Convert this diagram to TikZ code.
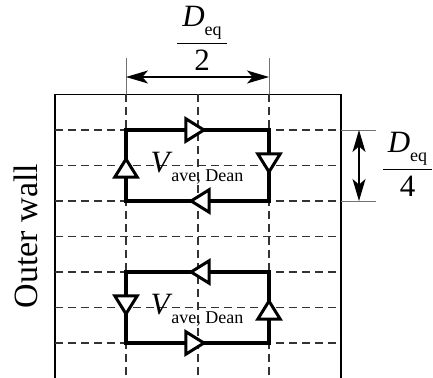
\documentclass[tikz,border=0pt]{standalone}
\usepackage{amsmath}
\usepackage{fontspec}
\setmainfont{Liberation Serif}
\usetikzlibrary{arrows.meta, decorations.markings}

\newcommand\lowsub[1]{\raisebox{-0.3em}{\fontsize{9}{9}\selectfont #1}}
\newcommand\Deq{\kern2.5pt\textit{D}\lowsub{eq}\kern2.5pt}
\newcommand\Vdean{\textit{V}\kern-0.5pt\lowsub{ave, Dean}}

\begin{document}
\begin{tikzpicture}[x=0.5pt, y=-0.5pt,
    wall/.style={line width=0.55pt},
    grid/.style={dash pattern=on 4pt off 2.5pt, line width=0.65pt, black!80},
    extline/.style={line width=0.45pt, black!55},
    dimarrow/.style={{Stealth[length=11pt, width=6.5pt, inset=2.8pt]}-{Stealth[length=11pt, width=6.5pt, inset=2.8pt]}, line width=0.55pt},
    vortex/.style={line width=1.7pt, line join=miter},
    flow/.style={postaction={decorate}, decoration={markings, mark=at position 0.5 with {\draw[fill=white, line width=1.5pt, line join=miter] (3.2pt,0) -- (-5.8pt,5.6pt) -- (-5.8pt,-5.6pt) -- cycle;}}},
    dimtext/.style={font=\fontsize{15.5}{18}\selectfont, inner sep=0pt},
]
  \useasboundingbox (0,0) rectangle (433,378);

  % channel and grid
  \coordinate (wtl) at (55,94.5);
  \coordinate (wtr) at (341,94.5);
  \draw[wall] (55,378) -- (wtl) -- (wtr) -- (341,378);
  \foreach \x in {126,198,269}
    \draw[grid] (\x,94.5) -- (\x,378);
  \foreach \k in {0,...,6}
    \draw[grid] (55,130+35.5*\k) -- (341,130+35.5*\k);

  % upper vortex (clockwise)
  \coordinate (ua) at (126,130);
  \coordinate (ub) at (269,130);
  \coordinate (uc) at (269,201);
  \coordinate (ud) at (126,201);
  \draw[vortex] (ua) rectangle (uc);
  \path[flow] (ua) -- (ub);
  \path[flow] (ub) -- (uc);
  \path[flow] (uc) -- (ud);
  \path[flow] (ud) -- (ua);
  \node[dimtext] (uvel) at (197,168) {\Vdean};

  % lower vortex (counter-clockwise)
  \coordinate (la) at (126,272);
  \coordinate (lb) at (269,272);
  \coordinate (lc) at (269,343);
  \coordinate (ld) at (126,343);
  \draw[vortex] (la) rectangle (lc);
  \path[flow] (lb) -- (la);
  \path[flow] (la) -- (ld);
  \path[flow] (ld) -- (lc);
  \path[flow] (lc) -- (lb);
  \node[dimtext] (lvel) at (197,310) {\Vdean};

  % width dimension
  \draw[extline] (126,58) -- (126,94.5);
  \draw[extline] (269,58) -- (269,94.5);
  \coordinate (wl) at (126,77);
  \coordinate (wr) at (269,77);
  \draw[dimarrow] (wl) -- (wr);
  \node[dimtext] (whalf) at (202,38) {$\dfrac{\text{\Deq}}{\text{2}}$};

  % height dimension
  \draw[extline] (341,130) -- (376,130);
  \draw[extline] (341,201) -- (376,201);
  \coordinate (ht) at (359,130);
  \coordinate (hb) at (359,201);
  \draw[dimarrow] (ht) -- (hb);
  \node[dimtext] (hquarter) at (407.5,164) {$\dfrac{\text{\Deq}}{\text{4}}$};

  \node[font=\fontsize{17}{18}\selectfont, rotate=90, inner sep=0pt] (wall) at (26,236) {Outer wall};
\end{tikzpicture}
\end{document}
